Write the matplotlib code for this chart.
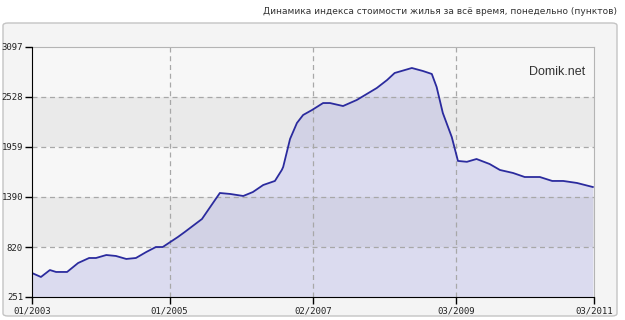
import matplotlib
matplotlib.use('Agg')
import matplotlib.pyplot as plt
from matplotlib.patches import FancyBboxPatch
import numpy as np

# index values (x in decimal years)
years = [2003.00, 2003.13, 2003.26, 2003.35, 2003.51, 2003.67, 2003.83, 2003.93,
         2004.08, 2004.22, 2004.37, 2004.51, 2004.66, 2004.80, 2004.90, 2005.01,
         2005.12, 2005.22, 2005.47, 2005.59, 2005.73, 2005.88, 2006.07, 2006.21,
         2006.36, 2006.53, 2006.63, 2006.65, 2006.75, 2006.85, 2006.94, 2007.07,
         2007.23, 2007.33, 2007.52, 2007.72, 2008.01, 2008.16, 2008.27, 2008.52,
         2008.68, 2008.81, 2008.88, 2008.97, 2009.10, 2009.19, 2009.32, 2009.46,
         2009.65, 2009.80, 2009.99, 2010.16, 2010.38, 2010.56, 2010.72, 2010.92,
         2011.15]
index = [524, 479, 558, 536, 536, 638, 695, 695,
         729, 718, 684, 695, 763, 820, 820, 877,
         934, 991, 1139, 1276, 1435, 1424, 1401, 1446,
         1526, 1572, 1697, 1731, 2050, 2232, 2323, 2380,
         2459, 2459, 2425, 2494, 2630, 2721, 2801, 2858,
         2824, 2790, 2642, 2346, 2072, 1800, 1790, 1822,
         1765, 1697, 1663, 1617, 1617, 1572, 1572, 1549,
         1503]

yticks = [251, 820, 1390, 1959, 2528, 3097]
xticks = [2003.0, 2005.0, 2007.083, 2009.167, 2011.167]
xlabels = ['01/2003', '01/2005', '02/2007', '03/2009', '03/2011']
title = 'Динамика индекса стоимости жилья за всё время, понедельно (пунктов)'

fig = plt.figure(figsize=(6.25, 3.2), dpi=100)
fig.patch.set_facecolor('white')

# outer grey panel
panel = FancyBboxPatch((3 / 625, 1 - 316 / 320), 614 / 625, 293 / 320,
                       boxstyle='round,pad=0,rounding_size=0.008',
                       transform=fig.transFigure, facecolor='#f4f4f4',
                       edgecolor='#c4c4c4', linewidth=1.0, zorder=-5)
fig.patches.append(panel)

fig.text(617 / 625, 1 - 12 / 320, title, ha='right', va='center',
         fontsize=6.5, color='#333333', family='DejaVu Sans')

ax = fig.add_axes([32 / 625, 1 - 297 / 320, 562 / 625, 250 / 320])
ax.set_zorder(2)
ax.set_xlim(xticks[0], xticks[-1])
ax.set_ylim(yticks[0], yticks[-1])

# alternating horizontal bands
band_cols = ['#f7f7f7', '#eaeaea']
for i in range(len(yticks) - 1):
    ax.axhspan(yticks[i], yticks[i + 1], color=band_cols[i % 2], lw=0, zorder=0)

ax.fill_between(years, yticks[0], index, color='#9393db', alpha=0.27, lw=0, zorder=1)
ax.plot(years, index, color='#2b2b9e', lw=1.3, zorder=3)

for y in yticks[1:-1]:
    ax.axhline(y, color='#a8a8a8', lw=0.9, ls=(0, (4, 3)), zorder=2)
for x in xticks[1:-1]:
    ax.axvline(x, color='#a8a8a8', lw=0.9, ls=(0, (4, 3)), zorder=2)

ax.set_xticks(xticks)
ax.set_xticklabels(xlabels)
ax.set_yticks(yticks)
ax.set_yticklabels([str(v) for v in yticks])
ax.tick_params(axis='both', direction='out', length=5, width=1, color='black',
               labelsize=6.5, pad=1.5)
for lab in ax.get_xticklabels() + ax.get_yticklabels():
    lab.set_family('DejaVu Sans Mono')
    lab.set_color('#222222')

ax.spines['left'].set_color('black')
ax.spines['bottom'].set_color('black')
ax.spines['top'].set_color('#b4b4b4')
ax.spines['right'].set_color('#b4b4b4')
ax.spines['left'].set_zorder(4)
ax.spines['bottom'].set_zorder(4)

ax.text(0.985, 0.9, 'Domik.net', transform=ax.transAxes, ha='right', va='center',
        fontsize=9, color='#333333', family='Liberation Sans', zorder=5)

plt.savefig('out.png', dpi=100)
